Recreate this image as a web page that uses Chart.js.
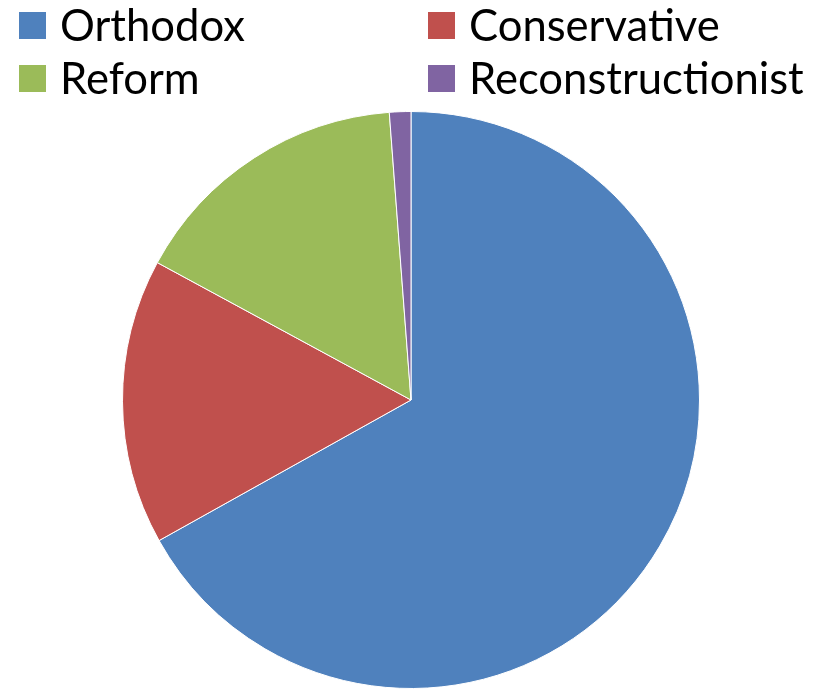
<!DOCTYPE html>
<html>
<head>
<meta charset="utf-8">
<script src="https://cdn.jsdelivr.net/npm/chart.js@4"></script>
<style>
  html, body { margin: 0; padding: 0; background: #fff; }
  #wrap { position: relative; width: 827px; height: 692px; }
  #pie { position: absolute; left: 0; top: 0; }
  .item { position: absolute; height: 40px; font-family: Lato, sans-serif; font-size: 43.6px; line-height: 40px; color: #000; white-space: nowrap; }
  .box { position: absolute; left: 0; top: 12px; width: 27px; height: 27px; }
  .txt { position: absolute; left: 41px; top: 4px; }
</style>
</head>
<body>
<div id="wrap">
  <canvas id="pie" width="827" height="692"></canvas>
</div>
<script>
const categories = ['Orthodox', 'Conservative', 'Reform', 'Reconstructionist'];
const shares = [66.9, 16.0, 15.9, 1.2];
const colors = ['#4F81BD', '#C0504D', '#9BBB59', '#8064A2'];

document.addEventListener('DOMContentLoaded', function() {
    // legend in two columns, like the original
    const wrap = document.getElementById('wrap');
    const colX = [19, 428];
    const rowY = [0, 53];
    categories.forEach(function(name, i) {
        const item = document.createElement('div');
        item.className = 'item';
        item.style.left = colX[i % 2] + 'px';
        item.style.top = rowY[Math.floor(i / 2)] + 'px';
        item.innerHTML = '<div class="box" style="background:' + colors[i] + '"></div><div class="txt">' + name + '</div>';
        wrap.appendChild(item);
    });

    const ctx = document.getElementById('pie').getContext('2d');
    new Chart(ctx, {
        type: 'pie',
        data: {
            labels: categories,
            datasets: [{
                data: shares,
                backgroundColor: colors,
                borderColor: '#ffffff',
                borderWidth: 1
            }]
        },
        options: {
            responsive: false,
            animation: false,
            devicePixelRatio: 1,
            layout: {
                padding: { left: 122, right: 127, top: 111, bottom: 3 }
            },
            plugins: {
                legend: { display: false },
                tooltip: { enabled: false }
            }
        }
    });
});
</script>
</body>
</html>
